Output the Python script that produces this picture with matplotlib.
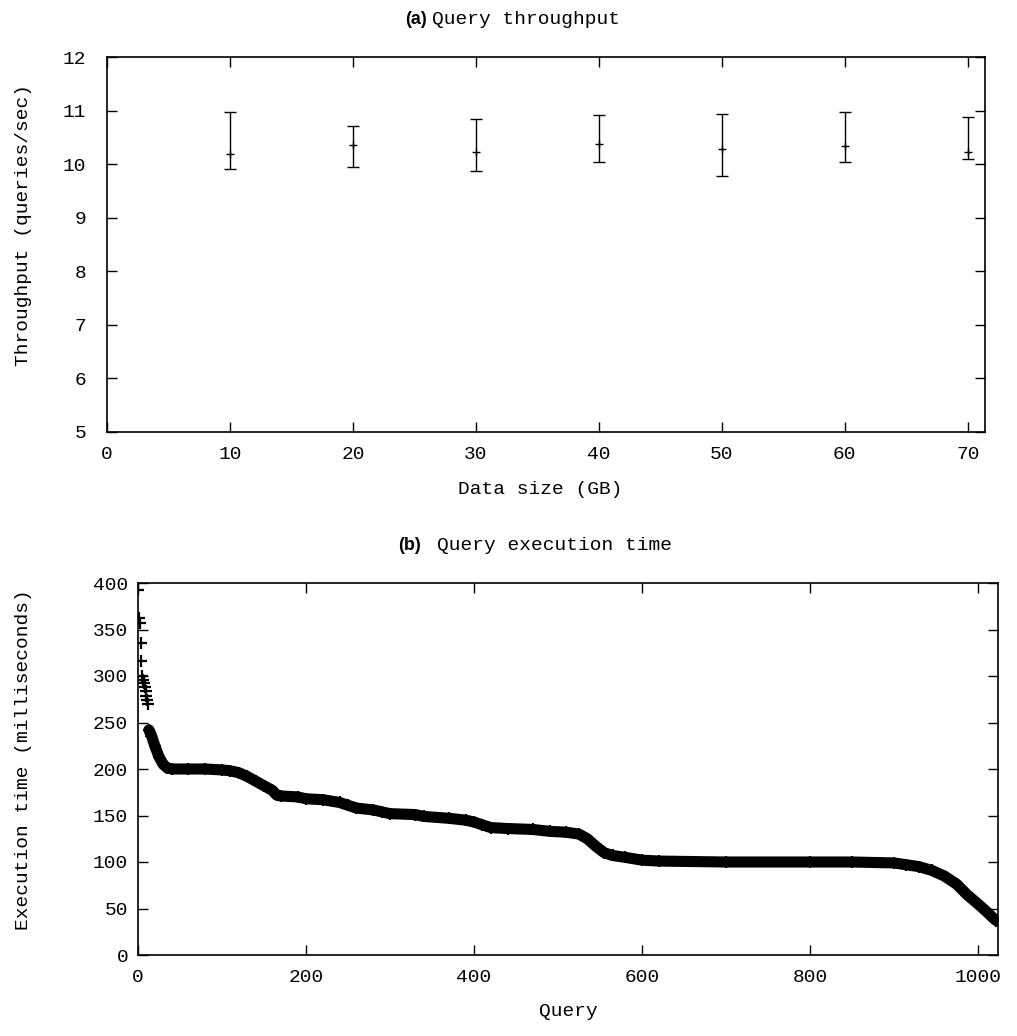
import numpy as np
import matplotlib
matplotlib.use("Agg")
import matplotlib.pyplot as plt

# (a) throughput per data size
sizes = [10, 20, 30, 40, 50, 60, 70]
tp_mean = [10.19, 10.36, 10.23, 10.38, 10.28, 10.34, 10.23]
tp_low = [9.91, 9.95, 9.88, 10.04, 9.78, 10.04, 10.09]
tp_high = [10.98, 10.71, 10.84, 10.91, 10.94, 10.975, 10.88]

# (b) execution time per query, sorted
head_q = [0, 1, 2, 3, 4, 5, 6, 7, 8, 9, 10, 11, 12]
head_ms = [392, 362, 357, 336, 316, 300, 296, 292, 288, 284, 278, 274, 270]

body_q = [13, 16, 20, 25, 30, 35, 40, 60, 80, 100, 110, 120, 130, 140, 150,
          160, 165, 170, 190, 200, 220, 240, 250, 260, 280, 290, 300, 330,
          340, 370, 390, 400, 410, 420, 440, 470, 490, 510, 525, 535, 545,
          555, 565, 580, 600, 620, 700, 800, 850, 900, 915, 930, 945, 960,
          975, 987, 1000, 1010, 1018, 1022]
body_ms = [242, 236, 225, 213, 205, 201, 200, 200, 200, 199, 198, 196, 192,
           187, 182, 177, 172, 171, 170, 168, 167, 164, 161, 158, 156, 154,
           152, 151, 149, 147, 145, 143, 140, 137, 136, 135, 133, 132, 130,
           125, 117, 110, 107, 105, 102, 101, 100, 100, 100, 99, 97, 95, 91,
           85, 76, 65, 55, 47, 40, 37]

mono = "Liberation Mono"
fs = 14
W, H = 1017, 1036

fig = plt.figure(figsize=(W / 100, H / 100), dpi=100)

def box(l, t, r, b):
    return [l / W, 1 - b / H, (r - l) / W, (b - t) / H]

# ---- top plot
ax1 = fig.add_axes(box(107, 57, 985, 432))
m = np.array(tp_mean)
yerr = [m - np.array(tp_low), np.array(tp_high) - m]
ax1.errorbar(sizes, tp_mean, yerr=yerr, fmt="+", color="black", ms=6,
             mew=1, elinewidth=1, capsize=4, capthick=1.2)
ax1.set_xlim(0, 71.4)
ax1.set_ylim(5, 12)
ax1.set_xticks(range(0, 71, 10))
ax1.set_yticks(range(5, 13))

# ---- bottom plot
ax2 = fig.add_axes(box(138, 583, 998, 955))
ax2.plot(body_q, body_ms, color="black", lw=8, solid_capstyle="round")
ax2.plot(head_q + body_q, head_ms + body_ms, "+", color="black", ms=8, mew=1.6)
ax2.set_xlim(0, 1024)
ax2.set_ylim(0, 400)
ax2.set_xticks(range(0, 1001, 200))
ax2.set_yticks(range(0, 401, 50))

for ax, ypad in ((ax1, 15), (ax2, 7)):
    ax.tick_params(direction="in", top=True, right=True, length=7, width=1,
                   labelsize=fs)
    ax.tick_params(axis="x", pad=10)
    ax.tick_params(axis="y", pad=ypad)
    for lab in ax.get_xticklabels() + ax.get_yticklabels():
        lab.set_fontfamily(mono)
    for s in ax.spines.values():
        s.set_linewidth(1.2)

# axis labels
fig.text(540 / W, 1 - 490 / H, "Data size (GB)", fontfamily=mono, fontsize=fs,
         ha="center", va="center")
fig.text(24 / W, 1 - 225 / H, "Throughput (queries/sec)", fontfamily=mono,
         fontsize=fs, rotation=90, ha="center", va="center")
fig.text(568 / W, 1 - 1012 / H, "Query", fontfamily=mono, fontsize=fs,
         ha="center", va="center")
fig.text(24 / W, 1 - 760 / H, "Execution time (milliseconds)", fontfamily=mono,
         fontsize=fs, rotation=90, ha="center", va="center")

# titles: bold panel letter + mono text
fig.text(405 / W, 1 - 20 / H, "(a)", fontfamily="Liberation Sans",
         fontweight="bold", fontsize=13, va="center", ha="left")
fig.text(432 / W, 1 - 20 / H, "Query throughput", fontfamily=mono,
         fontsize=fs, va="center", ha="left")
fig.text(398 / W, 1 - 546 / H, "(b)", fontfamily="Liberation Sans",
         fontweight="bold", fontsize=13, va="center", ha="left")
fig.text(437 / W, 1 - 546 / H, "Query execution time", fontfamily=mono,
         fontsize=fs, va="center", ha="left")

fig.savefig("out.png", dpi=100, facecolor="white")
